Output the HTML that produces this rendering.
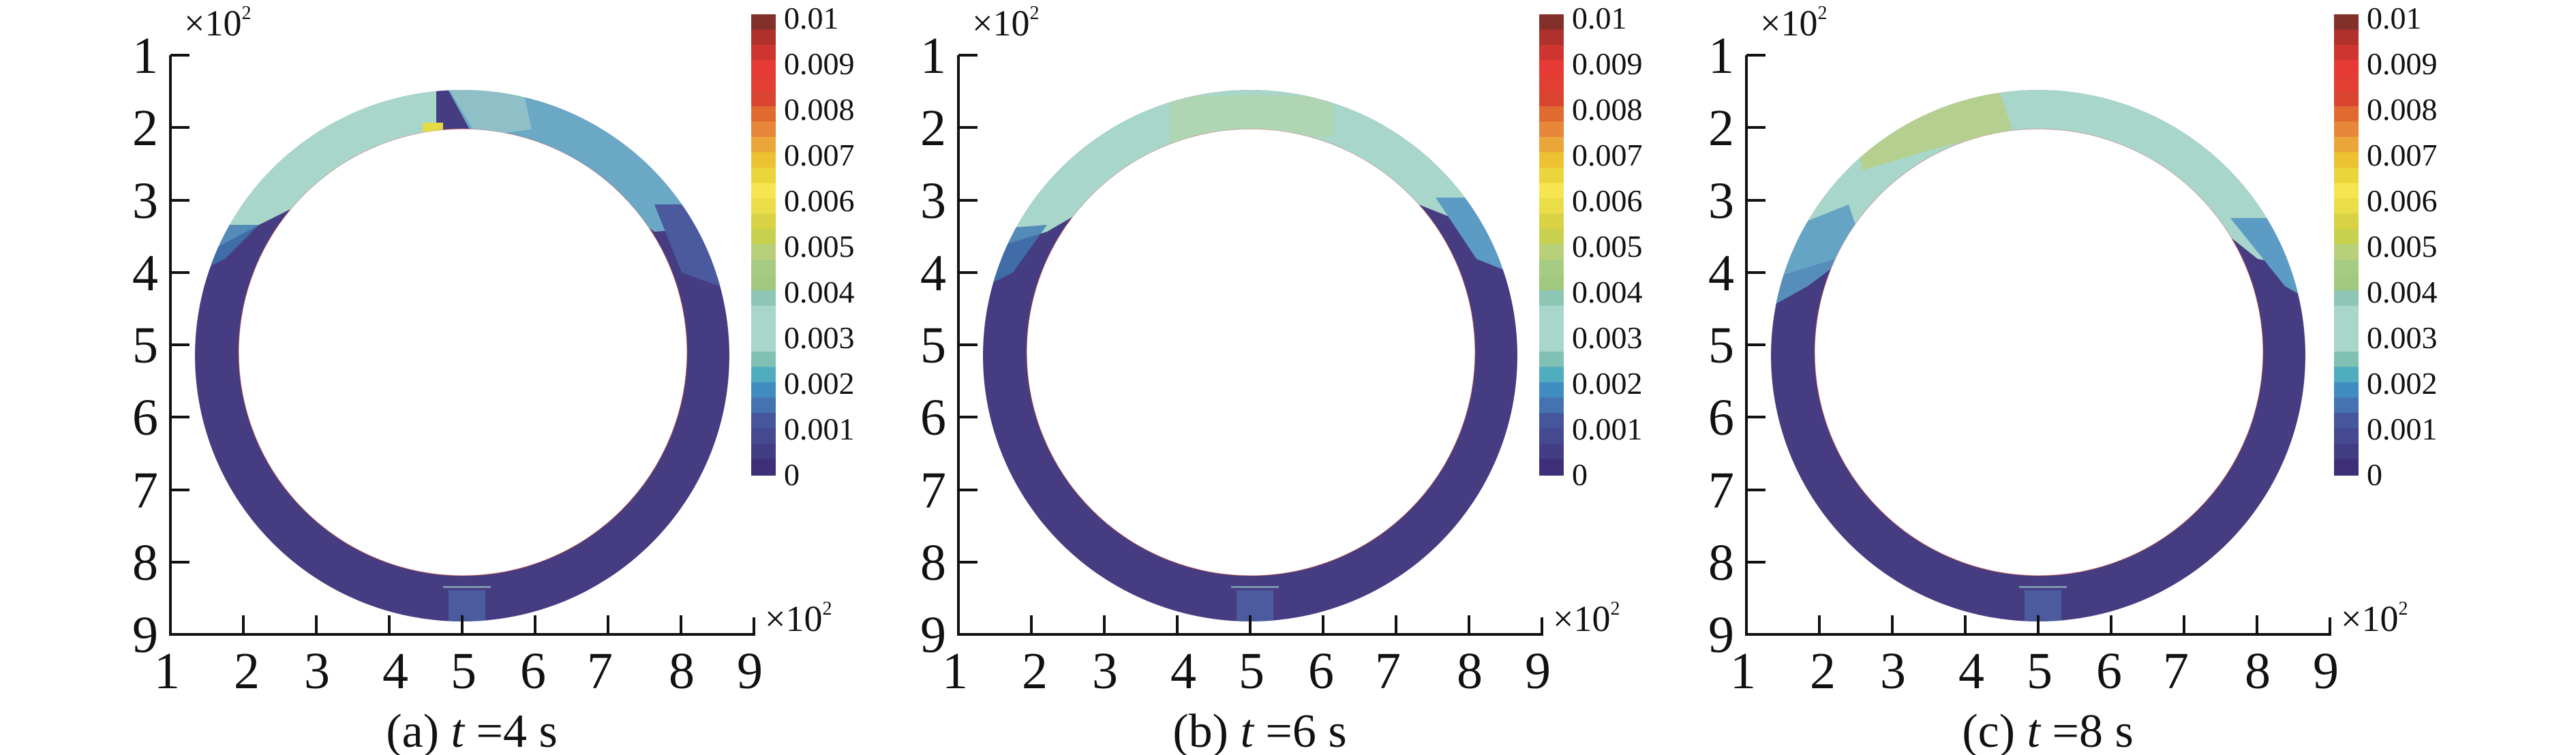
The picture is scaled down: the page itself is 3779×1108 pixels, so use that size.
<!DOCTYPE html>
<html><head><meta charset="utf-8"><style>
html,body{margin:0;padding:0;background:#fff}
svg{display:block}
text{font-family:"Liberation Serif",serif;fill:#111}
</style></head><body>
<svg width="3779" height="1108" viewBox="0 0 3779 1108" xmlns="http://www.w3.org/2000/svg">
<defs>
<clipPath id="ring"><path clip-rule="evenodd" d="M286,522 a392,390 0 1,0 784,0 a392,390 0 1,0 -784,0 Z M350,517 a329,328 0 1,0 658,0 a329,328 0 1,0 -658,0 Z"/></clipPath>
<g id="axes" stroke="#111" stroke-width="4" fill="none">
<path d="M250,81 V931 H1106 V906"/>
<path d="M250,81 h28 M250,187 h28 M250,294 h28 M250,400 h28 M250,506 h28 M250,612 h28 M250,719 h28 M250,825 h28"/>
<path d="M357,931 v-28 M464,931 v-28 M571,931 v-28 M678,931 v-28 M785,931 v-28 M892,931 v-28 M999,931 v-28"/>
</g>
<g id="cbar">
<rect x="0" y="0" width="36" height="23" fill="#84302a"/><rect x="0" y="22.5" width="36" height="23" fill="#b0302c"/><rect x="0" y="45" width="36" height="23" fill="#cf3530"/><rect x="0" y="67.5" width="36" height="23" fill="#e53a35"/><rect x="0" y="90" width="36" height="23" fill="#e33e33"/><rect x="0" y="112.5" width="36" height="23" fill="#da4532"/><rect x="0" y="135" width="36" height="23" fill="#e06a30"/><rect x="0" y="157.5" width="36" height="23" fill="#e8873a"/><rect x="0" y="180" width="36" height="23" fill="#eba63a"/><rect x="0" y="202.5" width="36" height="23" fill="#ecc132"/><rect x="0" y="225" width="36" height="23" fill="#ead53a"/><rect x="0" y="247.5" width="36" height="23" fill="#f5e550"/><rect x="0" y="270" width="36" height="23" fill="#ebdd48"/><rect x="0" y="292.5" width="36" height="23" fill="#d8d244"/><rect x="0" y="315" width="36" height="23" fill="#c7d04f"/><rect x="0" y="337.5" width="36" height="23" fill="#b8d07a"/><rect x="0" y="360" width="36" height="23" fill="#a5cc82"/><rect x="0" y="382.5" width="36" height="23" fill="#a0c97f"/><rect x="0" y="405" width="36" height="23" fill="#8dc6b5"/><rect x="0" y="427.5" width="36" height="23" fill="#a8d6cb"/><rect x="0" y="450" width="36" height="23" fill="#a8d6cb"/><rect x="0" y="472.5" width="36" height="23" fill="#a8d6cb"/><rect x="0" y="495" width="36" height="23" fill="#80c1b4"/><rect x="0" y="517.5" width="36" height="23" fill="#4fadbf"/><rect x="0" y="540" width="36" height="23" fill="#3f8dc0"/><rect x="0" y="562.5" width="36" height="23" fill="#4572b0"/><rect x="0" y="585" width="36" height="23" fill="#45569c"/><rect x="0" y="607.5" width="36" height="23" fill="#45498f"/><rect x="0" y="630" width="36" height="23" fill="#433d84"/><rect x="0" y="652.5" width="36" height="24.5" fill="#3e2f78"/>
</g>
<g id="ringbase">
<g clip-path="url(#ring)"><rect x="250" y="100" width="860" height="850" fill="#453c82"/>
<rect x="658" y="866" width="54" height="50" fill="#4b5b9e"/>
<rect x="650" y="860" width="70" height="3" fill="#9fd0cc" opacity="0.6"/></g>
<ellipse cx="679" cy="517" rx="329" ry="328" fill="none" stroke="#b53a30" stroke-width="1.2" opacity="0.6"/>
</g>
</defs>

<!-- Panel a -->
<g>
<use href="#ringbase"/>
<g clip-path="url(#ring)">
<polygon points="250,100 640,100 640,260 560,250 460,290 380,330 250,400" fill="#a8d6cb"/>
<polygon points="250,330 380,330 330,380 250,420" fill="#3f78b2" opacity="0.8"/>
<polygon points="640,100 1110,100 1110,330 960,340 860,270 700,210" fill="#6aa8c6"/>
<polygon points="640,100 760,100 780,190 700,200" fill="#8fc0c8"/>
<polygon points="960,300 1110,300 1110,440 1000,400" fill="#4a5a9c"/>
<polygon points="620,180 650,180 650,200 620,200" fill="#e5dc45"/>
</g>
<use href="#axes"/>
<use href="#cbar" x="1102" y="21"/>
<g font-size="76" text-anchor="end">
<text x="232" y="107">1</text><text x="232" y="213">2</text><text x="232" y="320">3</text><text x="232" y="426">4</text><text x="232" y="532">5</text><text x="232" y="638">6</text><text x="232" y="745">7</text><text x="232" y="851">8</text><text x="232" y="957">9</text></g>
<g font-size="76" text-anchor="middle">
<text x="245" y="1010">1</text><text x="362" y="1010">2</text><text x="465" y="1010">3</text><text x="580" y="1010">4</text><text x="680" y="1010">5</text><text x="782" y="1010">6</text><text x="880" y="1010">7</text><text x="1000" y="1010">8</text><text x="1100" y="1010">9</text></g>
<text x="270" y="52" font-size="54">×10<tspan font-size="28" dy="-24">2</tspan></text>
<text x="1122" y="926" font-size="54">×10<tspan font-size="28" dy="-24">2</tspan></text>
<g font-size="46">
<text x="1150" y="42">0.01</text><text x="1150" y="109">0.009</text><text x="1150" y="176">0.008</text><text x="1150" y="243">0.007</text><text x="1150" y="310">0.006</text><text x="1150" y="377">0.005</text><text x="1150" y="444">0.004</text><text x="1150" y="511">0.003</text><text x="1150" y="578">0.002</text><text x="1150" y="645">0.001</text><text x="1150" y="712">0</text></g>
<text x="692" y="1096" font-size="70" text-anchor="middle">(a) <tspan font-style="italic">t</tspan> =4 s</text>
</g>

<!-- Panel b -->
<g transform="translate(1156,0)">
<use href="#ringbase"/>
<g clip-path="url(#ring)">
<polygon points="250,100 1110,100 1110,340 1000,330 900,290 700,220 500,270 380,340 250,380" fill="#a8d6cb"/>
<polygon points="250,340 380,330 330,400 250,440" fill="#3f78b2" opacity="0.8"/>
<polygon points="950,290 1110,290 1110,420 1010,380" fill="#5b9bc4"/>
<polygon points="560,140 800,140 800,200 560,210" fill="#b6d39a" opacity="0.5"/>
</g>
<use href="#axes"/>
<use href="#cbar" x="1102" y="21"/>
<g font-size="76" text-anchor="end">
<text x="232" y="107">1</text><text x="232" y="213">2</text><text x="232" y="320">3</text><text x="232" y="426">4</text><text x="232" y="532">5</text><text x="232" y="638">6</text><text x="232" y="745">7</text><text x="232" y="851">8</text><text x="232" y="957">9</text></g>
<g font-size="76" text-anchor="middle">
<text x="245" y="1010">1</text><text x="362" y="1010">2</text><text x="465" y="1010">3</text><text x="580" y="1010">4</text><text x="680" y="1010">5</text><text x="782" y="1010">6</text><text x="880" y="1010">7</text><text x="1000" y="1010">8</text><text x="1100" y="1010">9</text></g>
<text x="270" y="52" font-size="54">×10<tspan font-size="28" dy="-24">2</tspan></text>
<text x="1122" y="926" font-size="54">×10<tspan font-size="28" dy="-24">2</tspan></text>
<g font-size="46">
<text x="1150" y="42">0.01</text><text x="1150" y="109">0.009</text><text x="1150" y="176">0.008</text><text x="1150" y="243">0.007</text><text x="1150" y="310">0.006</text><text x="1150" y="377">0.005</text><text x="1150" y="444">0.004</text><text x="1150" y="511">0.003</text><text x="1150" y="578">0.002</text><text x="1150" y="645">0.001</text><text x="1150" y="712">0</text></g>
<text x="692" y="1096" font-size="70" text-anchor="middle">(b) <tspan font-style="italic">t</tspan> =6 s</text>
</g>

<!-- Panel c -->
<g transform="translate(2312,0)">
<use href="#ringbase"/>
<g clip-path="url(#ring)">
<polygon points="250,100 1110,100 1110,400 1000,380 900,300 700,220 500,280 380,380 250,420" fill="#a8d6cb"/>
<polygon points="250,360 400,300 420,360 340,420 250,470" fill="#5b9bc4" opacity="0.85"/>
<polygon points="960,320 1110,320 1110,460 1040,420" fill="#5b9bc4"/>
<polygon points="400,130 620,130 640,190 520,220 420,250" fill="#b5d08e"/>
</g>
<use href="#axes"/>
<use href="#cbar" x="1112" y="21"/>
<g font-size="76" text-anchor="end">
<text x="232" y="107">1</text><text x="232" y="213">2</text><text x="232" y="320">3</text><text x="232" y="426">4</text><text x="232" y="532">5</text><text x="232" y="638">6</text><text x="232" y="745">7</text><text x="232" y="851">8</text><text x="232" y="957">9</text></g>
<g font-size="76" text-anchor="middle">
<text x="245" y="1010">1</text><text x="362" y="1010">2</text><text x="465" y="1010">3</text><text x="580" y="1010">4</text><text x="680" y="1010">5</text><text x="782" y="1010">6</text><text x="880" y="1010">7</text><text x="1000" y="1010">8</text><text x="1100" y="1010">9</text></g>
<text x="270" y="52" font-size="54">×10<tspan font-size="28" dy="-24">2</tspan></text>
<text x="1122" y="926" font-size="54">×10<tspan font-size="28" dy="-24">2</tspan></text>
<g font-size="46">
<text x="1160" y="42">0.01</text><text x="1160" y="109">0.009</text><text x="1160" y="176">0.008</text><text x="1160" y="243">0.007</text><text x="1160" y="310">0.006</text><text x="1160" y="377">0.005</text><text x="1160" y="444">0.004</text><text x="1160" y="511">0.003</text><text x="1160" y="578">0.002</text><text x="1160" y="645">0.001</text><text x="1160" y="712">0</text></g>
<text x="692" y="1096" font-size="70" text-anchor="middle">(c) <tspan font-style="italic">t</tspan> =8 s</text>
</g>
</svg>
</body></html>
